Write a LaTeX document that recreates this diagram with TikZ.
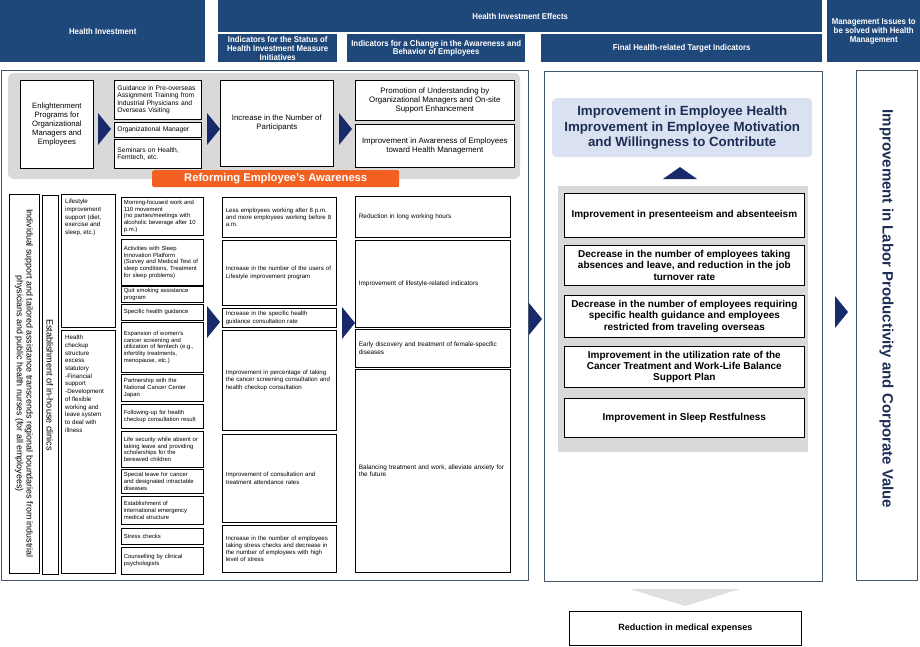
\documentclass[tikz,border=0pt]{standalone}
\usepackage{fontspec}
\setmainfont{Liberation Sans}
\newfontfamily\hdfont[FakeStretch=0.92]{Liberation Sans}
\definecolor{hdblue}{RGB}{31,72,122}
\definecolor{panelline}{RGB}{68,84,106}
\definecolor{arrnavy}{RGB}{24,42,105}
\definecolor{lgray}{RGB}{217,217,217}
\definecolor{orng}{RGB}{242,96,34}
\definecolor{lblue}{RGB}{218,226,242}
\definecolor{navytxt}{RGB}{30,45,85}
\tikzset{
  hdr/.style={fill=hdblue, text=white, anchor=north west, inner sep=0pt, align=center,
    font=\hdfont\bfseries\fontsize{8.5}{8.8}\selectfont},
  cell/.style={draw, fill=white, line width=0.7pt, anchor=north west, inner xsep=3pt, inner ysep=0pt, align=left},
  ccell/.style={cell, align=center},
  panel/.style={draw=panelline, line width=0.8pt},
  smalltxt/.style={font=\fontsize{5.9}{6.8}\selectfont},
  midtxt/.style={font=\fontsize{6.1}{7.2}\selectfont},
}
\begin{document}
\begin{tikzpicture}[x=1pt, y=-1pt]
    \useasboundingbox (0,0) rectangle (920,646);

    % headers
    \node[hdr, minimum width=205pt, minimum height=62pt] (hinv) at (0,0) {Health Investment};
    \node[hdr, minimum width=604pt, minimum height=32pt] (heff) at (218,0) {Health Investment Effects};
    \node[hdr, minimum width=119pt, minimum height=28pt] (hstat) at (218,34) {Indicators for the Status of\\Health Investment Measure\\Initiatives};
    \node[hdr, minimum width=178pt, minimum height=28pt] (hchg) at (347,34) {Indicators for a Change in the Awareness and\\Behavior of Employees};
    \node[hdr, minimum width=281pt, minimum height=28pt] (hfin) at (541,34) {Final Health-related Target Indicators};
    \node[hdr, minimum width=93pt, minimum height=62pt] (hmgt) at (827,0) {Management Issues to\\be solved with Health\\Management};

    \draw[panel] (1,70) rectangle (528,580);
    \draw[panel] (544,71) rectangle (822,581);

    % awareness block
    \fill[lgray, rounded corners=6pt] (8,73) rectangle (520,179);
    \node[ccell, minimum width=73pt, minimum height=88pt, font=\fontsize{7.7}{9}\selectfont] (enl) at (20,80) {Enlightenment\\Programs for\\Organizational\\Managers and\\Employees};
    \node[cell, text width=81pt, minimum height=39pt, font=\fontsize{6.7}{7.5}\selectfont] (gdc) at (114,80) {Guidance in Pre-overseas\\Assignment Training from\\Industrial Physicians and\\Overseas Visiting};
    \node[cell, text width=81pt, minimum height=15pt, font=\fontsize{6.7}{7.5}\selectfont] (orgm) at (114,122) {Organizational Manager};
    \node[cell, text width=81pt, minimum height=29pt, font=\fontsize{6.7}{7.5}\selectfont] (smn) at (114,139) {Seminars on Health,\\Femtech, etc.};
    \node[ccell, minimum width=113pt, minimum height=86pt, font=\fontsize{7.8}{9.2}\selectfont] (incp) at (220,80) {Increase in the Number of\\Participants};
    \node[ccell, minimum width=159pt, minimum height=40pt, font=\fontsize{7.9}{9.2}\selectfont] (prom) at (355,80) {Promotion of Understanding by\\Organizational Managers and On-site\\Support Enhancement};
    \node[ccell, minimum width=159pt, minimum height=43pt, font=\fontsize{7.9}{9.2}\selectfont] (awar) at (355,124) {Improvement in Awareness of Employees\\toward Health Management};
    \node[fill=orng, rounded corners=2pt, anchor=north west, minimum width=247pt, minimum height=17pt, inner sep=0pt, text=white, font=\bfseries\fontsize{11.2}{12}\selectfont] (rfm) at (152,170) {Reforming Employee's Awareness};

    \foreach \xa/\ya in {98/113, 207/113, 339/113, 207/306, 342/307, 529/303, 835/296}
        \fill[arrnavy] (\xa,\ya) -- ++(13,16) -- ++(-13,16) -- cycle;

    % support measures
    \node[cell, anchor=center, rotate=-90, minimum width=379pt, minimum height=30pt, align=center, font=\fontsize{8.9}{9.8}\selectfont] (indv) at (24,383.5) {Individual support and tailored assistance transcends regional boundaries from industrial\\physicians and public health nurses (for all employees)};
    \node[cell, anchor=center, rotate=-90, minimum width=379pt, minimum height=16pt, align=center, font=\fontsize{9.1}{10}\selectfont] (clin) at (50,385) {Establishment of in-house clinics};
    \node[cell, minimum width=54pt, minimum height=133pt] (life) at (61,194) {};
    \node[anchor=north west, align=left, inner sep=0pt, font=\fontsize{6.2}{7.7}\selectfont] (lifetx) at ([shift={(4,5)}]life.north west) {Lifestyle\\improvement\\support (diet,\\exercise and\\sleep, etc.)};
    \node[cell, minimum width=54pt, minimum height=243pt] (chk) at (61,330) {};
    \node[anchor=north west, align=left, inner sep=0pt, font=\fontsize{6.2}{7.7}\selectfont] (chktx) at ([shift={(4,5)}]chk.north west) {Health\\checkup\\structure\\excess\\statutory\\-Financial\\support\\-Development\\of flexible\\working and\\leave system\\to deal with\\illness};

    \foreach \nm/\ya/\yb/\txt in {
        mrn/197/235/{Morning-focused work and\\110 movement\\(no parties/meetings with\\alcoholic beverage after 10\\p.m.)},
        slp/239/285/{Activities with Sleep\\Innovation Platform\\(Survey and Medical Test of\\sleep conditions, Treatment\\for sleep problems)},
        quit/286/302/{Quit smoking assistance\\program},
        shg/304/320/{Specific health guidance},
        wmn/322/372/{Expansion of women's\\cancer screening and\\utilization of femtech (e.g.,\\infertility treatments,\\menopause, etc.)},
        ncc/374/401/{Partnership with the\\National Cancer Center\\Japan},
        flw/404/428/{Following-up for health\\checkup consultation result},
        lsec/431/467/{Life security while absent or\\taking leave and providing\\scholarships for the\\bereaved children},
        spl/469/493/{Special leave for cancer\\and designated intractable\\diseases},
        intl/496/524/{Establishment of\\international emergency\\medical structure},
        strs/528/544/{Stress checks},
        csl/547/574/{Counselling by clinical\\psychologists}}
    {
        \pgfmathsetmacro\hh{\yb-\ya}
        \node[cell, smalltxt, inner xsep=2.5pt, text width=77pt, minimum height=\hh pt] (\nm) at (121,\ya) {\txt};
    }

    \foreach \nm/\ya/\yb/\txt in {
        less/197/237/{Less employees working after 8 p.m.\\and more employees working before 8\\a.m.},
        usr/240/305/{Increase in the number of the users of\\Lifestyle improvement program},
        sgr/308/327/{Increase in the specific health\\guidance consultation rate},
        cnc/330/430/{Improvement in percentage of taking\\the cancer screening consultation and\\health checkup consultation},
        att/434/522/{Improvement of consultation and\\treatment attendance rates},
        sck/525/572/{Increase in the number of employees\\taking stress checks and decrease in\\the number of employees with high\\level of stress}}
    {
        \pgfmathsetmacro\hh{\yb-\ya}
        \node[cell, midtxt, inner xsep=3.5pt, text width=107pt, minimum height=\hh pt] (\nm) at (222,\ya) {\txt};
    }

    \foreach \nm/\ya/\yb/\txt in {
        red/196/237/{Reduction in long working hours},
        lfs/240/327/{Improvement of lifestyle-related indicators},
        fem/329/367/{Early discovery and treatment of female-specific\\diseases},
        bal/369/572/{Balancing treatment and work, alleviate anxiety for\\the future}}
    {
        \pgfmathsetmacro\hh{\yb-\ya}
        \node[cell, midtxt, font=\fontsize{6.4}{7.4}\selectfont, inner xsep=3.5pt, text width=148pt, minimum height=\hh pt] (\nm) at (355,\ya) {\txt};
    }

    % target indicators
    \node[fill=lblue, rounded corners=4pt, anchor=north west, minimum width=260pt, minimum height=59pt, inner sep=0pt, align=center, text=navytxt, font=\bfseries\fontsize{13.3}{15.5}\selectfont] (goal) at (552,98) {Improvement in Employee Health\\Improvement in Employee Motivation\\and Willingness to Contribute};
    \fill[arrnavy] (663,179) -- (697,179) -- (680,167) -- cycle;
    \fill[lgray] (558,186) rectangle (808,452);
    \foreach \nm/\ya/\yb/\txt in {
        prs/193/237/{Improvement in presenteeism and absenteeism},
        abs/245/285/{Decrease in the number of employees taking\\absences and leave, and reduction in the job\\turnover rate},
        trv/295/337/{Decrease in the number of employees requiring\\specific health guidance and employees\\restricted from traveling overseas},
        cnp/346/387/{Improvement in the utilization rate of the\\Cancer Treatment and Work-Life Balance\\Support Plan},
        slr/398/437/{Improvement in Sleep Restfulness}}
    {
        \pgfmathsetmacro\hh{\yb-\ya}
        \node[ccell, minimum width=240pt, minimum height=\hh pt, font=\bfseries\fontsize{10}{11.3}\selectfont] (\nm) at (564,\ya) {\txt};
    }

    % management issue
    \node[draw=panelline, line width=0.8pt, anchor=north west, minimum width=61pt, minimum height=510pt, inner sep=0pt] (mgmt) at (856,70) {};
    \node[rotate=-90, text=navytxt, font=\bfseries\fontsize{15}{17}\selectfont] (mgtx) at (886.5,309) {Improvement in Labor Productivity and Corporate Value};

    \fill[gray!25] (630,589) -- (740,589) -- (685,606) -- cycle;
    \node[ccell, minimum width=232pt, minimum height=34pt, font=\bfseries\fontsize{9}{10}\selectfont] (medx) at (569,611) {Reduction in medical expenses};
\end{tikzpicture}
\end{document}
